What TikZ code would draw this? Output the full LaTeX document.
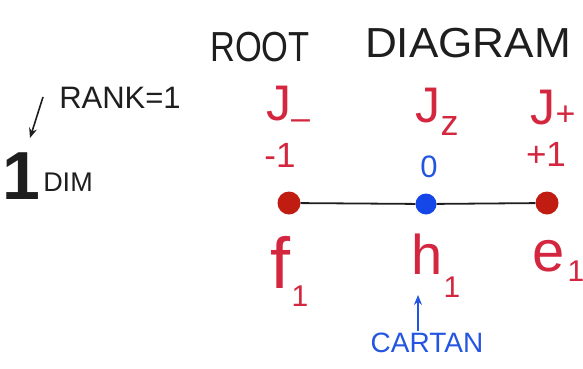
\documentclass[tikz,border=0pt]{standalone}
\usepackage{fontspec}
\setmainfont{Liberation Sans}
\usetikzlibrary{arrows.meta}
\definecolor{pen}{RGB}{30,30,30}
\definecolor{redink}{RGB}{212,38,62}
\definecolor{blueink}{RGB}{35,85,225}
\definecolor{reddot}{RGB}{192,28,18}
\definecolor{bluedot}{RGB}{20,70,232}
\newcommand\fsz[1]{\fontsize{#1}{#1}\selectfont}
\tikzset{
  txt/.style={inner sep=0pt, outer sep=0pt},
  title/.style={txt, text=pen, font=\fsz{42}},
  note/.style={txt, text=pen, font=\fsz{31}},
  redtxt/.style={txt, text=redink, font=\fsz{50}},
  redsub/.style={txt, text=redink, font=\fsz{30}},
  weight/.style={txt, font=\fsz{35}},
  root/.style={circle, inner sep=0pt, minimum size=23pt, fill=#1},
  chain/.style={line width=1.8pt, draw=pen},
  pointer/.style={line width=1.6pt, -{Stealth[length=10pt,width=8pt]}}
}
\begin{document}
\begin{tikzpicture}[x=1pt,y=-1pt]
\useasboundingbox (0,0) rectangle (583,369);

% heading
\node[title, xscale=0.82] (hroot) at (260,47) {ROOT};
\node[title, xscale=1.05] (hdiag) at (468,43) {DIAGRAM};

% rank note on the left
\node[note] (rank) at (120,98) {RANK=1};
\node[txt, text=pen, font=\bfseries\fsz{68}] (one) at (21,176) {1};
\node[note, font=\fsz{27}] (dim) at (68,182) {DIM};
\coordinate (rtail) at (43,97);
\coordinate (rhead) at (30,138);
\draw[pointer, draw=pen] (rtail) -- (rhead);

% generators
\node[redtxt] (jm) at (288,108) {J\raisebox{-9pt}{\fsz{34}–}};
\node[redtxt] (jz) at (437,112) {J\raisebox{-13pt}{\fsz{36}z}};
\node[redtxt] (jp) at (553,108) {J\raisebox{-1pt}{\fsz{34}+}};

% weights
\node[weight, text=redink] (wm) at (280,155) {-1};
\node[weight, text=blueink, font=\fsz{31}] (wz) at (429,167) {0};
\node[weight, text=redink] (wp) at (546,154) {+1};

% the root chain
\node[root=reddot] (rl) at (289,203) {};
\node[root=bluedot, minimum size=21pt] (rc) at (426,204) {};
\node[root=reddot] (rr) at (547,203) {};
\draw[chain] (rl) -- (rc) -- (rr);

% basis elements
\node[redtxt, font=\fsz{72}] (f) at (280,262) {f};
\node[redsub] (f1) at (300,296) {1};
\node[redtxt, font=\fsz{56}] (h) at (427,254) {h};
\node[redsub] (h1) at (452,287) {1};
\node[redtxt, font=\fsz{58}] (e) at (549,256) {e};
\node[redsub] (e1) at (576,271) {1};

% Cartan subalgebra
\node[txt, text=blueink, font=\fsz{28}] (cartan) at (427,343) {CARTAN};
\coordinate (ctail) at (418,331);
\coordinate (chead) at (418,295);
\draw[pointer, draw=blueink, line width=1.2pt] (ctail) -- (chead);
\end{tikzpicture}
\end{document}
